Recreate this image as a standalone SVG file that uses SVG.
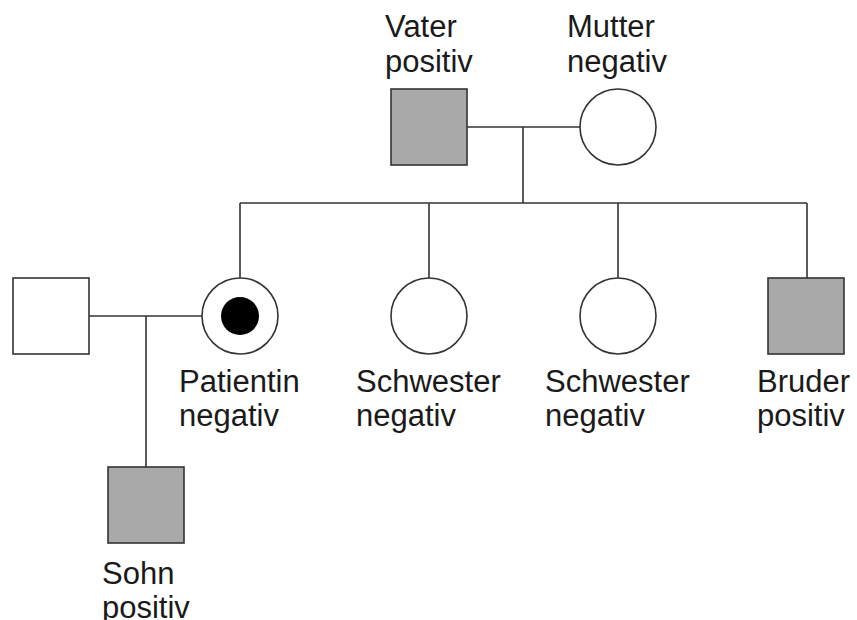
<svg xmlns="http://www.w3.org/2000/svg" width="857" height="620" viewBox="0 0 857 620">
  <style>
    .line { stroke: #333; stroke-width: 1.6; fill: none; }
    .shape { stroke: #333; stroke-width: 1.6; }
    .pos { fill: #a9a9a9; }
    .neg { fill: #fff; }
    .carrier { fill: #000; stroke: none; }
    text { font-family: "Liberation Sans", Arial, sans-serif; font-size: 31px; fill: #1a1a1a; }
  </style>
  <rect width="857" height="620" fill="#fff"/>

  <!-- connectors -->
  <g id="connectors">
    <line class="line" x1="467" y1="127" x2="580" y2="127"/>
    <line class="line" x1="523" y1="127" x2="523" y2="203"/>
    <line class="line" x1="240" y1="203" x2="807" y2="203"/>
    <line class="line" x1="240" y1="203" x2="240" y2="278"/>
    <line class="line" x1="429" y1="203" x2="429" y2="278"/>
    <line class="line" x1="618" y1="203" x2="618" y2="278"/>
    <line class="line" x1="807" y1="203" x2="807" y2="278"/>
    <line class="line" x1="89" y1="316" x2="202" y2="316"/>
    <line class="line" x1="146" y1="316" x2="146" y2="467"/>
  </g>

  <g id="vater">
    <rect class="shape pos" x="391" y="89" width="76" height="76"/>
    <text x="385" y="37">Vater</text>
    <text x="385" y="72">positiv</text>
  </g>

  <g id="mutter">
    <circle class="shape neg" cx="618" cy="127" r="38"/>
    <text x="567" y="37">Mutter</text>
    <text x="567" y="72">negativ</text>
  </g>

  <g id="ehemann">
    <rect class="shape neg" x="13" y="278" width="76" height="76"/>
  </g>

  <g id="patientin">
    <circle class="shape neg" cx="240" cy="316" r="38"/>
    <circle class="carrier" cx="240" cy="316" r="19"/>
    <text x="179" y="392">Patientin</text>
    <text x="179" y="426">negativ</text>
  </g>

  <g id="schwester1">
    <circle class="shape neg" cx="429" cy="316" r="38"/>
    <text x="356" y="392">Schwester</text>
    <text x="356" y="426">negativ</text>
  </g>

  <g id="schwester2">
    <circle class="shape neg" cx="618" cy="316" r="38"/>
    <text x="545" y="392">Schwester</text>
    <text x="545" y="426">negativ</text>
  </g>

  <g id="bruder">
    <rect class="shape pos" x="768" y="278" width="76" height="76"/>
    <text x="757" y="392">Bruder</text>
    <text x="757" y="426">positiv</text>
  </g>

  <g id="sohn">
    <rect class="shape pos" x="108" y="467" width="76" height="76"/>
    <text x="102" y="584">Sohn</text>
    <text x="102" y="618">positiv</text>
  </g>
</svg>
